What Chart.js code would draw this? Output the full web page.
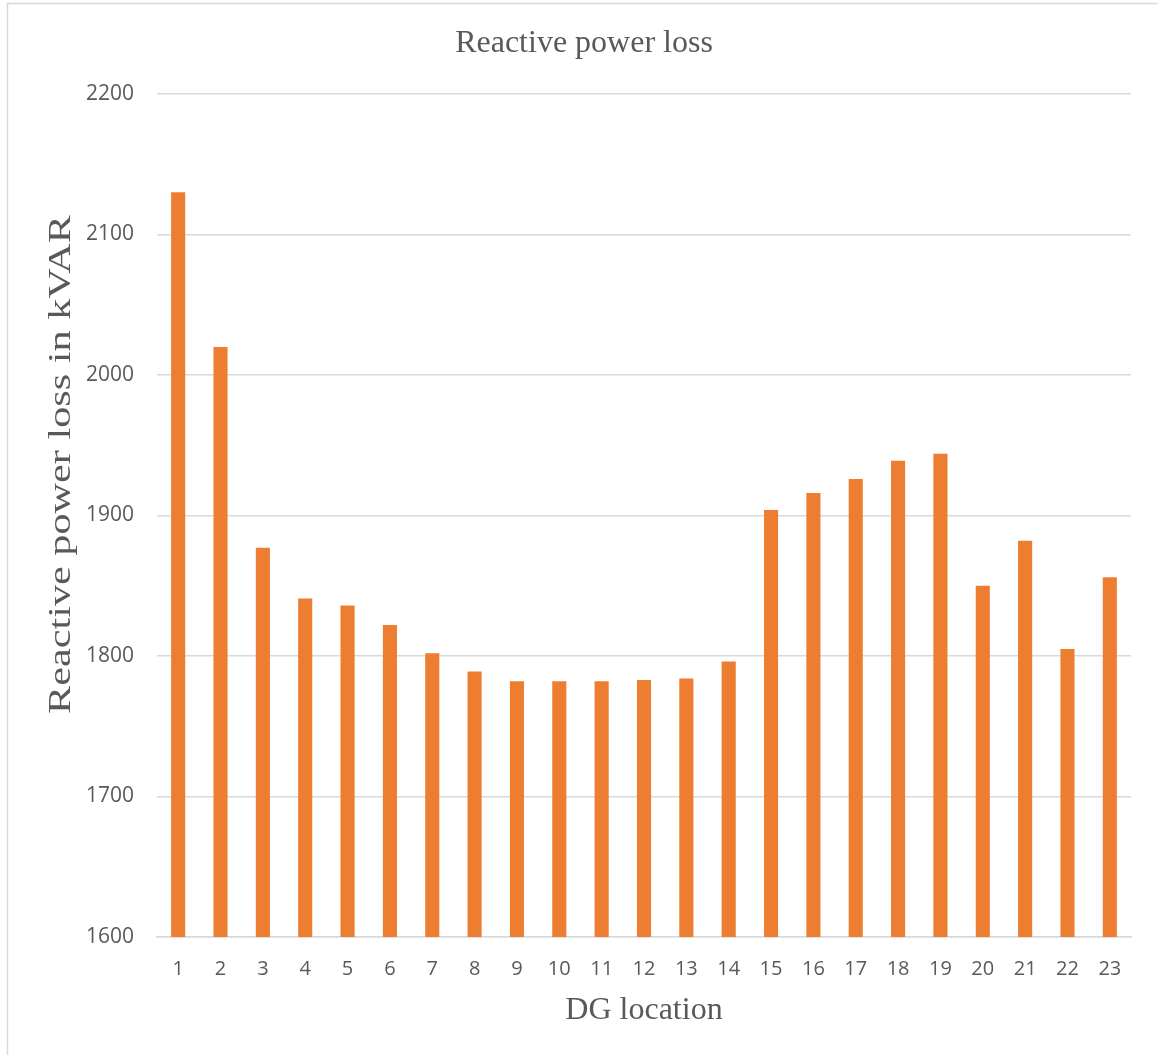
<!DOCTYPE html>
<html>
<head>
<meta charset="utf-8">
<script src="https://cdn.jsdelivr.net/npm/chart.js@4.4.1/dist/chart.umd.min.js"></script>
<style>
  html, body { margin: 0; padding: 0; background: #ffffff; }
  canvas { display: block; }
</style>
</head>
<body>
<canvas id="lossChart" width="1158" height="1055"></canvas>
<script>
// DG placement bus numbers
const dgLocations = ['1', '2', '3', '4', '5', '6', '7', '8', '9', '10', '11', '12',
                     '13', '14', '15', '16', '17', '18', '19', '20', '21', '22', '23'];

// Reactive power loss (kVAR) for each DG location
const reactiveLossKvar = [2130, 2020, 1877, 1841, 1836, 1822, 1802, 1789, 1782, 1782, 1782, 1783,
                          1784, 1796, 1904, 1916, 1926, 1939, 1944, 1850, 1882, 1805, 1856];

// Value axis ticks
const yTicks = [1600, 1700, 1800, 1900, 2000, 2100, 2200];

const chartTitle = 'Reactive power loss';
const xAxisTitle = 'DG location';
const yAxisTitle = 'Reactive power loss in kVAR';

const TEXT_GREY = '#595959';
const GRID_GREY = '#d9d9d9';
const BAR_ORANGE = '#ED7D31';

// White background and the thin frame around the chart
const framePlugin = {
  id: 'frame',
  beforeDraw(chart) {
    const ctx = chart.ctx;
    ctx.save();
    ctx.fillStyle = '#ffffff';
    ctx.fillRect(0, 0, chart.width, chart.height);
    ctx.strokeStyle = GRID_GREY;
    ctx.lineWidth = 1.5;
    ctx.strokeRect(7.5, 3.5, chart.width + 20, chart.height + 20);
    ctx.restore();
  }
};

// Vertical axis title, drawn widened along its length
const yTitlePlugin = {
  id: 'yTitle',
  afterDraw(chart) {
    const ctx = chart.ctx;
    const area = chart.chartArea;
    ctx.save();
    ctx.translate(62, (area.top + area.bottom) / 2 - 51);
    ctx.rotate(-Math.PI / 2);
    ctx.scale(1.32, 1);
    ctx.font = '32px "Liberation Serif", "Times New Roman", serif';
    ctx.fillStyle = TEXT_GREY;
    ctx.textAlign = 'center';
    ctx.textBaseline = 'middle';
    ctx.fillText(yAxisTitle, 0, 0);
    ctx.restore();
  }
};

new Chart(document.getElementById('lossChart'), {
  type: 'bar',
  data: {
    labels: dgLocations,
    datasets: [{
      label: yAxisTitle,
      data: reactiveLossKvar,
      backgroundColor: BAR_ORANGE,
      borderWidth: 0,
      barPercentage: 0.333,
      categoryPercentage: 1.0
    }]
  },
  options: {
    responsive: false,
    animation: false,
    devicePixelRatio: 1,
    layout: { padding: { left: 37, right: 27, top: 0, bottom: 0 } },
    plugins: {
      legend: { display: false },
      tooltip: { enabled: false },
      title: {
        display: true,
        text: chartTitle,
        color: TEXT_GREY,
        font: { family: '"Liberation Serif", "Times New Roman", serif', size: 32, weight: 'normal', lineHeight: 1.2 },
        padding: { top: 24, bottom: 31.6 }
      }
    },
    scales: {
      x: {
        grid: { display: false, drawTicks: false },
        border: { display: true, color: GRID_GREY, width: 1.5 },
        ticks: {
          color: TEXT_GREY,
          padding: 20,
          font: { family: '"Open Sans", "Liberation Sans", sans-serif', size: 20 }
        },
        title: {
          display: true,
          text: xAxisTitle,
          color: TEXT_GREY,
          font: { family: '"Liberation Serif", "Times New Roman", serif', size: 32, weight: 'normal', lineHeight: 1.2 },
          padding: { top: 0, bottom: 25 }
        },
        afterFit(scale) { scale.height = 118; }
      },
      y: {
        min: yTicks[0],
        max: yTicks[yTicks.length - 1],
        grid: { color: GRID_GREY, lineWidth: 1.5, drawTicks: false },
        border: { display: false },
        ticks: {
          stepSize: yTicks[1] - yTicks[0],
          color: TEXT_GREY,
          padding: 23,
          font: { family: '"Open Sans", "Liberation Sans", sans-serif', size: 21 },
          callback: (value) => String(value)
        },
        afterFit(scale) { scale.width = 120; }
      }
    }
  },
  plugins: [framePlugin, yTitlePlugin]
});
</script>
</body>
</html>
